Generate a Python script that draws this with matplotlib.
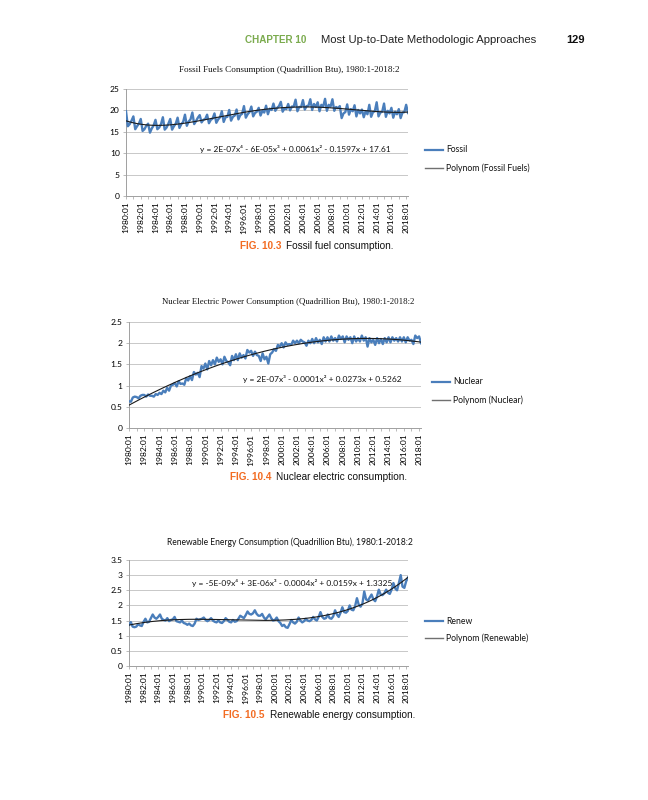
import numpy as np
import matplotlib
matplotlib.use("Agg")
import matplotlib.pyplot as plt
from matplotlib.ticker import FuncFormatter, MultipleLocator

# ---------------- data (quarterly, 1980:1 - 2018:2) ----------------
fossil = [
    19.8, 16.3, 16.8, 17.6,  18.6, 15.6, 16.3, 16.9,  18.0, 15.2, 15.6, 16.4,
    16.9, 14.8, 15.8, 16.5,  17.8, 15.6, 16.0, 16.8,  18.4, 15.5, 16.0, 16.9,
    18.0, 15.5, 16.3, 16.9,  18.3, 15.9, 16.8, 17.3,  19.0, 16.4, 17.4, 17.9,
    19.5, 16.8, 17.5, 18.3,  18.9, 17.2, 17.8, 18.0,  19.0, 17.0, 17.8, 18.1,
    19.3, 17.1, 17.9, 18.4,  19.8, 17.3, 18.4, 18.5,  20.1, 17.6, 18.5, 18.8,
    20.2, 17.9, 18.9, 19.2,  21.0, 18.3, 19.1, 19.6,  20.9, 18.6, 19.4, 19.7,
    20.6, 18.8, 19.9, 19.5,  21.1, 19.1, 20.4, 20.1,  21.6, 19.9, 20.6, 21.0,
    22.0, 19.7, 20.5, 20.3,  21.5, 20.0, 20.9, 20.9,  22.5, 19.8, 20.8, 20.8,
    22.4, 20.2, 21.0, 21.1,  22.6, 20.1, 21.5, 20.8,  21.9, 19.8, 21.3, 20.9,
    22.7, 19.9, 21.3, 20.9,  22.6, 19.9, 20.8, 20.5,  21.0, 18.2, 19.3, 19.6,
    21.4, 19.0, 20.3, 19.8,  21.2, 18.6, 20.1, 19.3,  20.2, 18.4, 19.8, 19.1,
    21.3, 18.5, 19.6, 19.8,  21.9, 18.6, 19.5, 19.7,  21.6, 18.5, 19.9, 19.3,
    20.6, 18.3, 19.7, 19.1,  20.3, 18.2, 19.5, 19.6,  21.3, 19.4,
]
nuclear = [
    0.63, 0.62, 0.72, 0.74,  0.73, 0.70, 0.76, 0.78,  0.78, 0.74, 0.79, 0.76,
    0.76, 0.74, 0.80, 0.78,  0.83, 0.80, 0.88, 0.84,  0.95, 0.88, 1.00, 1.02,
    1.06, 0.98, 1.10, 1.04,  1.05, 1.02, 1.18, 1.12,  1.22, 1.13, 1.32, 1.26,
    1.30, 1.20, 1.46, 1.40,  1.52, 1.38, 1.58, 1.48,  1.60, 1.50, 1.66, 1.56,
    1.62, 1.50, 1.68, 1.58,  1.55, 1.48, 1.70, 1.60,  1.74, 1.60, 1.76, 1.66,
    1.72, 1.64, 1.84, 1.78,  1.82, 1.70, 1.80, 1.72,  1.70, 1.58, 1.76, 1.62,
    1.68, 1.52, 1.74, 1.78,  1.86, 1.82, 1.96, 1.92,  2.00, 1.90, 2.02, 1.96,
    1.98, 1.96, 2.06, 2.00,  2.06, 2.00, 2.08, 2.04,  2.02, 1.94, 2.06, 2.00,
    2.10, 2.00, 2.12, 2.02,  2.08, 1.98, 2.14, 2.04,  2.14, 2.04, 2.16, 2.06,
    2.12, 2.04, 2.18, 2.10,  2.16, 2.02, 2.16, 2.08,  2.14, 2.00, 2.16, 2.04,
    2.12, 2.04, 2.18, 2.06,  2.14, 1.92, 2.12, 2.02,  2.08, 1.96, 2.12, 2.00,
    2.10, 1.98, 2.12, 2.02,  2.14, 2.02, 2.14, 2.06,  2.12, 2.04, 2.14, 2.04,
    2.14, 2.02, 2.14, 2.06,  2.08, 1.98, 2.18, 2.12,  2.16, 2.00,
]
renew = [
    1.36, 1.45, 1.30, 1.28,  1.30, 1.38, 1.34, 1.32,  1.46, 1.56, 1.44, 1.46,
    1.58, 1.70, 1.60, 1.56,  1.62, 1.70, 1.56, 1.52,  1.50, 1.58, 1.48, 1.52,
    1.54, 1.62, 1.48, 1.46,  1.44, 1.50, 1.42, 1.40,  1.36, 1.40, 1.34, 1.32,
    1.40, 1.56, 1.52, 1.54,  1.56, 1.60, 1.52, 1.48,  1.52, 1.58, 1.50, 1.46,
    1.44, 1.50, 1.44, 1.42,  1.48, 1.58, 1.52, 1.46,  1.44, 1.52, 1.46, 1.48,
    1.56, 1.66, 1.62, 1.58,  1.68, 1.80, 1.72, 1.70,  1.74, 1.84, 1.72, 1.66,
    1.66, 1.72, 1.60, 1.54,  1.62, 1.70, 1.58, 1.50,  1.52, 1.60, 1.48, 1.42,
    1.32, 1.36, 1.28, 1.26,  1.38, 1.52, 1.44, 1.40,  1.46, 1.60, 1.50, 1.44,
    1.48, 1.56, 1.50, 1.48,  1.52, 1.62, 1.54, 1.50,  1.62, 1.78, 1.62, 1.56,
    1.58, 1.70, 1.58, 1.56,  1.64, 1.84, 1.70, 1.62,  1.76, 1.94, 1.78, 1.76,
    1.82, 2.00, 1.86, 1.84,  1.98, 2.24, 2.02, 1.96,  2.06, 2.46, 2.20, 2.16,
    2.26, 2.36, 2.20, 2.14,  2.30, 2.52, 2.36, 2.34,  2.40, 2.52, 2.42, 2.38,
    2.52, 2.74, 2.56, 2.50,  2.74, 3.00, 2.62, 2.58,  2.80, 2.92,
]
tick_labels = ["1980:01", "1982:01", "1984:01", "1986:01", "1988:01", "1990:01",
               "1992:01", "1994:01", "1996:01", "1998:01", "2000:01", "2002:01",
               "2004:01", "2006:01", "2008:01", "2010:01", "2012:01", "2014:01",
               "2016:01", "2018:01"]

titles = ["Fossil Fuels Consumption (Quadrillion Btu), 1980:1-2018:2",
          "Nuclear Electric Power Consumption (Quadrillion Btu), 1980:1-2018:2",
          "Renewable Energy Consumption (Quadrillion Btu), 1980:1-2018:2"]
series_names = ["Fossil", "Nuclear", "Renew"]
trend_names = ["Polynom (Fossil Fuels)", "Polynom (Nuclear)", "Polynom (Renewable)"]
equations = ["y = 2E-07x\u2074 - 6E-05x\u00b3 + 0.0061x\u00b2 - 0.1597x + 17.61",
             "y = 2E-07x\u00b3 - 0.0001x\u00b2 + 0.0273x + 0.5262",
             "y = -5E-09x\u2074 + 3E-06x\u00b3 - 0.0004x\u00b2 + 0.0159x + 1.3325"]
poly_orders = [4, 3, 4]
captions = [("FIG. 10.3", "Fossil fuel consumption."),
            ("FIG. 10.4", "Nuclear electric consumption."),
            ("FIG. 10.5", "Renewable energy consumption.")]

# ---------------- layout ----------------
W, H = 648, 800
fig = plt.figure(figsize=(W / 100, H / 100), dpi=100)
fig.patch.set_facecolor("white")

SANS = ["Lato", "DejaVu Sans"]
HELV = ["Liberation Sans", "DejaVu Sans"]
SERIF = ["Liberation Serif", "DejaVu Serif"]

def px(x, y):
    return x / W, 1 - y / H

# header
fig.text(*px(245, 40), "CHAPTER 10", color="#7bab4e", fontsize=7.1, fontweight="bold",
         family=HELV, va="center", ha="left")
fig.text(*px(321, 40), "Most Up-to-Date Methodologic Approaches", color="#222222",
         fontsize=8.1, family=HELV, va="center", ha="left")
fig.text(*px(585, 40), "129", color="#111111", fontsize=8, fontweight="bold",
         family=HELV, va="center", ha="right")

# per-chart geometry: (left, right, top, bottom) in px
boxes = [(126, 408, 89, 196), (129, 421, 322, 428), (129, 408, 560, 666)]
ymax = [25, 2.5, 3.5]
ystep = [5, 0.5, 0.5]
title_y = [70, 302, 542]
title_x = [289, 288, 290]
title_font = [SERIF, SERIF, SANS]
title_size = [6.55, 6.35, 6.15]
eq_pos = [(200, 149), (243, 379), (192, 583)]
leg_x = [425, 432, 425]
leg_y = [(150, 168), (382, 400), (621, 638)]
cap_pos = [(240, 246), (230, 477), (223, 715)]

x = np.arange(1, len(fossil) + 1)
datasets = [fossil, nuclear, renew]
blue = "#4a7ebb"

for i in range(3):
    l, r, t, b = boxes[i]
    ax = fig.add_axes([l / W, 1 - b / H, (r - l) / W, (b - t) / H])
    y = np.array(datasets[i])
    coef = np.polyfit(x, y, poly_orders[i])
    trend = np.polyval(coef, x)
    ax.plot(x, y, color=blue, lw=1.7, solid_joinstyle="round", zorder=3)
    ax.plot(x, trend, color="#1a1a1a", lw=0.8, zorder=4)
    ax.set_xlim(1, len(x))
    ax.set_ylim(0, ymax[i])
    ax.yaxis.set_major_locator(MultipleLocator(ystep[i]))
    ax.yaxis.set_major_formatter(FuncFormatter(lambda v, p: f"{v:g}"))
    ax.grid(axis="y", color="#c8c8c8", lw=0.7)
    ax.set_axisbelow(True)
    for s in ["top", "right"]:
        ax.spines[s].set_visible(False)
    ax.spines["left"].set_color("#a0a0a0")
    ax.spines["bottom"].set_color("#a0a0a0")
    ax.spines["left"].set_linewidth(0.7)
    ax.spines["bottom"].set_linewidth(0.7)
    ax.set_xticks(x[::8])
    ax.set_xticklabels(tick_labels, rotation=90, fontsize=6.1, family=SANS)
    ax.set_xticks(x[::4], minor=True)
    ax.tick_params(axis="x", which="both", length=2.5, width=0.5, color="#a0a0a0", pad=1.5)
    ax.tick_params(axis="y", length=2.5, width=0.5, color="#a0a0a0", labelsize=6.1, pad=2)
    for lab in ax.get_yticklabels():
        lab.set_family(SANS)
    # title
    fig.text(*px(title_x[i], title_y[i]), titles[i], ha="center",
             va="center", fontsize=title_size[i], family=title_font[i], color="#111111")
    # equation
    fig.text(*px(*eq_pos[i]), equations[i], ha="left", va="center", fontsize=6,
             family=SANS, color="#111111")
    # legend
    lx = leg_x[i]
    ly1, ly2 = leg_y[i]
    fig.add_artist(plt.Line2D([lx / W, (lx + 18) / W], [1 - ly1 / H] * 2, color=blue, lw=1.6))
    fig.add_artist(plt.Line2D([lx / W, (lx + 18) / W], [1 - ly2 / H] * 2, color="#707070", lw=1.0))
    fig.text(*px(lx + 21, ly1), series_names[i], ha="left", va="center", fontsize=6.2,
             family=SANS, color="#111111")
    fig.text(*px(lx + 21, ly2), trend_names[i], ha="left", va="center", fontsize=6.2,
             family=SANS, color="#111111")
    # caption
    cx, cy = cap_pos[i]
    t1 = fig.text(*px(cx, cy), captions[i][0], ha="left", va="center", fontsize=7.2,
                  fontweight="bold", family=HELV, color="#f26b21")
    fig.canvas.draw()
    bb = t1.get_window_extent()
    fig.text((bb.x1 + 5) / W, 1 - cy / H, captions[i][1], ha="left", va="center",
             fontsize=7.2, family=HELV, color="#111111")

fig.savefig("out.png", dpi=100, facecolor="white")
